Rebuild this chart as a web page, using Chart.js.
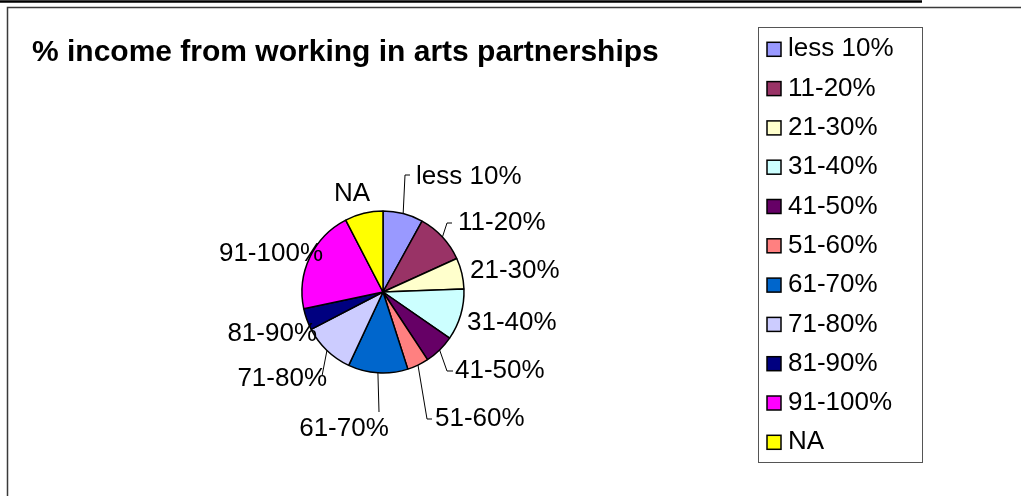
<!DOCTYPE html>
<html>
<head>
<meta charset="utf-8">
<title>% income from working in arts partnerships</title>
<script src="https://cdn.jsdelivr.net/npm/chart.js"></script>
<style>
  html, body { margin: 0; padding: 0; background: #fff; }
  #wrap { position: relative; width: 1021px; height: 496px; }
</style>
</head>
<body>
<div id="wrap"><canvas id="incomeChart"></canvas></div>
<script>
// income bands and share of respondents in each
const categories = ['less 10%', '11-20%', '21-30%', '31-40%', '41-50%', '51-60%',
                    '61-70%', '71-80%', '81-90%', '91-100%', 'NA'];
const shares = [8.0, 10.2, 6.2, 10.2, 6.1, 4.3, 11.9, 10.4, 4.3, 20.7, 7.6];
const sliceColors = ['#9999FF', '#993366', '#FFFFCC', '#CCFFFF', '#660066', '#FF8080',
                     '#0066CC', '#CCCCFF', '#000080', '#FF00FF', '#FFFF00'];
const chartTitle = '% income from working in arts partnerships';

const FONT = '"Liberation Sans", Arial, sans-serif';

// where each slice label sits, as offsets from the pie centre
// lead = bend of the leader line, tail = short stub running into the text
const labelSpots = [
  { tx: 33,  ty: -115, align: 'left',   lead: [22, -117], tail: [27, -117] },
  { tx: 75,  ty: -69,  align: 'left',   lead: [64, -69],  tail: [69, -69] },
  { tx: 87,  ty: -21,  align: 'left' },
  { tx: 84,  ty: 31,   align: 'left' },
  { tx: 72,  ty: 79,   align: 'left',   lead: [64, 79],   tail: [70, 79] },
  { tx: 52,  ty: 127,  align: 'left',   lead: [44, 127],  tail: [49, 127] },
  { tx: -39, ty: 137,  align: 'center', lead: [-4, 120] },
  { tx: -56, ty: 87,   align: 'right',  lead: [-61, 84] },
  { tx: -66, ty: 42,   align: 'right' },
  { tx: -60, ty: -38,  align: 'right' },
  { tx: -31, ty: -98,  align: 'center' }
];

// page frame, title and the rule across the top
const framePlugin = {
  id: 'frame',
  beforeDraw(chart) {
    const c = chart.ctx;
    c.save();
    c.fillStyle = '#fff';
    c.fillRect(0, 0, chart.width, chart.height);
    c.strokeStyle = '#000';
    c.lineWidth = 2.5;
    c.beginPath();
    c.moveTo(0, 1.5);
    c.lineTo(922, 1.5);
    c.stroke();
    c.strokeStyle = '#3a3a3a';
    c.lineWidth = 1.5;
    c.strokeRect(7.5, 7.5, 1100, 600);
    c.fillStyle = '#000';
    c.font = 'bold 30px ' + FONT;
    c.textAlign = 'left';
    c.textBaseline = 'middle';
    c.fillText(chartTitle, 32, 53);
    c.restore();
  }
};

// labels outside the slices with their leader lines
const sliceLabels = {
  id: 'sliceLabels',
  afterDatasetsDraw(chart) {
    const c = chart.ctx;
    const arcs = chart.getDatasetMeta(0).data;
    c.save();
    c.font = '26px ' + FONT;
    c.fillStyle = '#000';
    c.strokeStyle = '#000';
    c.lineWidth = 1;
    c.textBaseline = 'middle';
    arcs.forEach((arc, i) => {
      const p = arc.getProps(['x', 'y', 'startAngle', 'endAngle', 'outerRadius'], true);
      const spot = labelSpots[i];
      if (spot.lead) {
        const mid = (p.startAngle + p.endAngle) / 2;
        c.beginPath();
        c.moveTo(p.x + Math.cos(mid) * p.outerRadius, p.y + Math.sin(mid) * p.outerRadius);
        c.lineTo(p.x + spot.lead[0], p.y + spot.lead[1]);
        if (spot.tail) c.lineTo(p.x + spot.tail[0], p.y + spot.tail[1]);
        c.stroke();
      }
      c.textAlign = spot.align;
      c.fillText(categories[i], p.x + spot.tx, p.y + spot.ty);
    });
    c.restore();
  }
};

// boxed legend on the right
const legendBox = {
  id: 'legendBox',
  afterDraw(chart) {
    const c = chart.ctx;
    const left = 758, top = 27, right = 922, bottom = 462;
    const rowH = 39.3, firstRow = 49.3;
    c.save();
    c.strokeStyle = '#555';
    c.lineWidth = 1;
    c.strokeRect(left + 0.5, top + 0.5, right - left, bottom - top);
    c.font = '26px ' + FONT;
    c.textAlign = 'left';
    c.textBaseline = 'middle';
    categories.forEach((name, i) => {
      const y = firstRow + i * rowH;
      c.fillStyle = sliceColors[i];
      c.fillRect(767, y - 7, 14, 14);
      c.strokeStyle = '#000';
      c.lineWidth = 1.5;
      c.strokeRect(767, y - 7, 14, 14);
      c.fillStyle = '#000';
      c.fillText(name, 788, y);
    });
    c.restore();
  }
};

const ctx = document.getElementById('incomeChart');
const incomeChart = new Chart(ctx, {
  type: 'pie',
  data: {
    labels: categories,
    datasets: [{
      data: shares,
      backgroundColor: sliceColors,
      borderColor: '#000',
      borderWidth: 1.5
    }]
  },
  options: {
    responsive: true,
    maintainAspectRatio: false,
    animation: false,
    layout: {
      padding: { left: 301.25, right: 556.25, top: 210.25, bottom: 122.25 }
    },
    plugins: {
      legend: { display: false },
      tooltip: { enabled: false },
      title: { display: false }
    }
  },
  plugins: [framePlugin, sliceLabels, legendBox]
});
</script>
</body>
</html>
